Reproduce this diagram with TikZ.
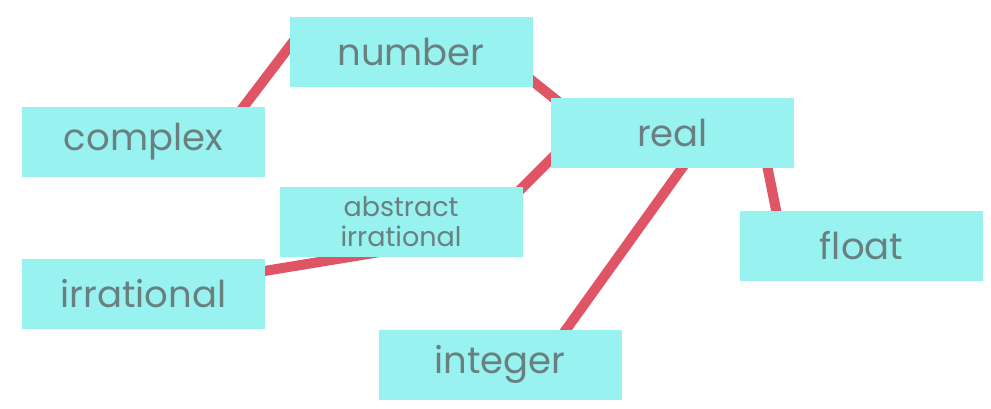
\documentclass[tikz,border=0pt]{standalone}
\usepackage{fontspec}
\setmainfont{Poppins}
\definecolor{boxfill}{RGB}{152,243,240}
\definecolor{edgecol}{RGB}{224,85,101}
\definecolor{txtcol}{RGB}{106,128,128}
\begin{document}
\begin{tikzpicture}[x=1pt,y=-1pt,
  box/.style={fill=boxfill,draw=none,minimum width=243pt,minimum height=70pt,inner sep=0pt,text=txtcol,font=\fontsize{37}{37}\selectfont},
  smallbox/.style={box,font=\fontsize{27}{30}\selectfont,align=center},
  edge/.style={draw=edgecol,line width=10pt}]
\useasboundingbox (0,0) rectangle (991,408);
% edge anchor coordinates
\coordinate (e1a) at (226,130); \coordinate (e1b) at (302,30);
\coordinate (e2a) at (510,63);  \coordinate (e2b) at (580,119);
\coordinate (e3a) at (495,215); \coordinate (e3b) at (570,140);
\coordinate (e4a) at (240,275); \coordinate (e4b) at (380,252);
\coordinate (e5a) at (695,150); \coordinate (e5b) at (555,345);
\coordinate (e6a) at (762,140); \coordinate (e6b) at (780,230);
\draw[edge] (e1a) -- (e1b);
\draw[edge] (e2a) -- (e2b);
\draw[edge] (e3a) -- (e3b);
\draw[edge] (e4a) -- (e4b);
\draw[edge] (e5a) -- (e5b);
\draw[edge] (e6a) -- (e6b);
\node[box] (number) at (411,52) {number};
\node[box] (complex) at (143.5,142) {complex};
\node[box] (real) at (672.5,132.5) {real};
\node[box] (float) at (861.5,246) {float};
\node[smallbox] (abstract) at (401,222) {abstract\\irrational};
\node[box] (irrational) at (143.5,294) {irrational};
\node[box] (integer) at (500,364.5) {integer};
\end{tikzpicture}
\end{document}
